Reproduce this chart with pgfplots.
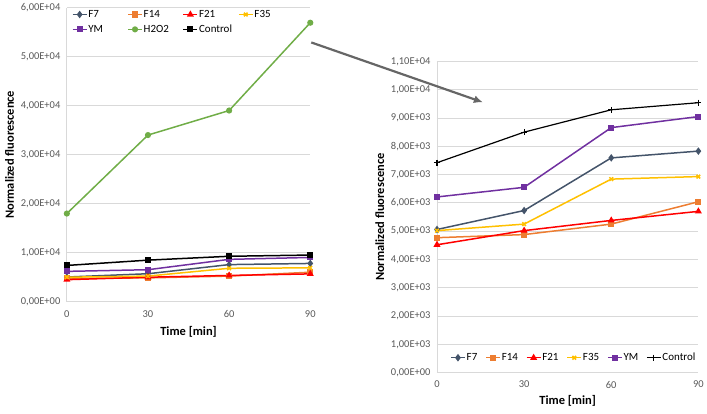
\documentclass[border=0pt]{standalone}
\usepackage{fontspec}
\setmainfont{Carlito}
\usepackage{pgfplots}
\pgfplotsset{compat=1.18}
\usetikzlibrary{arrows.meta}
\definecolor{cF7}{HTML}{44546A}
\definecolor{cF14}{HTML}{ED7D31}
\definecolor{cF21}{HTML}{FF0000}
\definecolor{cF35}{HTML}{FFC000}
\definecolor{cYM}{HTML}{7030A0}
\definecolor{cH2O2}{HTML}{70AD47}
\definecolor{cTick}{HTML}{595959}
\definecolor{cGrid}{HTML}{D9D9D9}

\pgfplotsset{
  excel/.style={
    scale only axis,
    xmin=0, xmax=90,
    xtick={0,30,60,90}, xticklabels={0,30,60,90},
    scaled y ticks=false,
    axis lines*=left,
    axis line style={cGrid, line width=0.8pt},
    ymajorgrids, grid style={cGrid, line width=0.8pt},
    major tick length=0pt,
    tick label style={font=\fontsize{10.5}{12}\selectfont, text=cTick},
    xticklabel style={yshift=-5pt},
    yticklabel style={xshift=-3pt},
    label style={font=\fontsize{12.5}{14}\selectfont\bfseries},
    xlabel={Time [min]},
    ylabel={Normalized fluorescence},
    every axis plot/.append style={line width=1.5pt, mark size=2.6pt},
    legend cell align=left,
    legend image code/.code={%
      \draw[mark repeat=2, mark phase=2] plot coordinates {(0pt,0pt) (7pt,0pt) (14pt,0pt)};},
    legend style={draw=none, fill=none, font=\fontsize{11}{13}\selectfont,
      inner sep=0pt, nodes={inner sep=1pt}},
  },
}

\begin{document}
\begin{tikzpicture}
\path (0pt,0pt) rectangle (707pt,-410pt);

% ---------- left: all series ----------
\begin{axis}[excel,
  at={(67pt,-298pt)}, anchor=south west,
  width=244pt, height=295pt,
  ymin=0, ymax=60000,
  ytick={0,10000,20000,30000,40000,50000,60000},
  yticklabels={{0,00E+00},{1,00E+04},{2,00E+04},{3,00E+04},{4,00E+04},{5,00E+04},{6,00E+04}},
  xlabel style={yshift=-2pt},
  legend columns=4,
  legend style={at={(0.02,0.995)}, anchor=north west, row sep=4pt},
]
\addplot[cF7, mark=diamond*] coordinates {(0,5060) (30,5730) (60,7590) (90,7830)};
\addlegendentry{\makebox[38pt][l]{F7}}
\addplot[cF14, mark=square*, mark size=2.3pt] coordinates {(0,4770) (30,4880) (60,5250) (90,6040)};
\addlegendentry{\makebox[38pt][l]{F14}}
\addplot[cF21, mark=triangle*] coordinates {(0,4520) (30,5020) (60,5380) (90,5700)};
\addlegendentry{\makebox[38pt][l]{F21}}
\addplot[cF35, mark=x] coordinates {(0,5020) (30,5250) (60,6840) (90,6930)};
\addlegendentry{\makebox[38pt][l]{F35}}
\addplot[cYM, mark=square*, mark size=2.3pt] coordinates {(0,6210) (30,6550) (60,8660) (90,9050)};
\addlegendentry{\makebox[38pt][l]{YM}}
\addplot[cH2O2, mark=*, mark size=2.3pt] coordinates {(0,18000) (30,34000) (60,39000) (90,56900)};
\addlegendentry{\makebox[38pt][l]{H2O2}}
\addplot[black, mark=square*, mark size=2.3pt] coordinates {(0,7420) (30,8500) (60,9290) (90,9540)};
\addlegendentry{\makebox[38pt][l]{Control}}
\end{axis}

% ---------- right: zoom without H2O2 ----------
\begin{axis}[excel,
  at={(438pt,-369pt)}, anchor=south west,
  width=262pt, height=312pt,
  ymin=0, ymax=11000,
  ytick={0,1000,...,11000},
  yticklabels={{0,00E+00},{1,00E+03},{2,00E+03},{3,00E+03},{4,00E+03},{5,00E+03},{6,00E+03},{7,00E+03},{8,00E+03},{9,00E+03},{1,00E+04},{1,10E+04}},
  legend columns=6,
  legend style={at={(0.05,0.048)}, anchor=west,
    /tikz/every even column/.append style={column sep=7pt}},
]
\addplot[cF7, mark=diamond*] coordinates {(0,5060) (30,5730) (60,7590) (90,7830)};
\addlegendentry{F7}
\addplot[cF14, mark=square*, mark size=2.3pt] coordinates {(0,4770) (30,4880) (60,5250) (90,6040)};
\addlegendentry{F14}
\addplot[cF21, mark=triangle*] coordinates {(0,4520) (30,5020) (60,5380) (90,5700)};
\addlegendentry{F21}
\addplot[cF35, mark=x] coordinates {(0,5020) (30,5250) (60,6840) (90,6930)};
\addlegendentry{F35}
\addplot[cYM, mark=square*, mark size=2.3pt] coordinates {(0,6210) (30,6550) (60,8660) (90,9050)};
\addlegendentry{YM}
\addplot[black, line width=1.2pt, mark=+, mark size=3pt] coordinates {(0,7420) (30,8500) (60,9290) (90,9540)};
\addlegendentry{Control}
\end{axis}

\draw[line width=2.2pt, color=black!60, -{Latex[length=9pt,width=8pt]}] (312pt,-38pt) -- (484pt,-98pt);
\end{tikzpicture}
\end{document}
